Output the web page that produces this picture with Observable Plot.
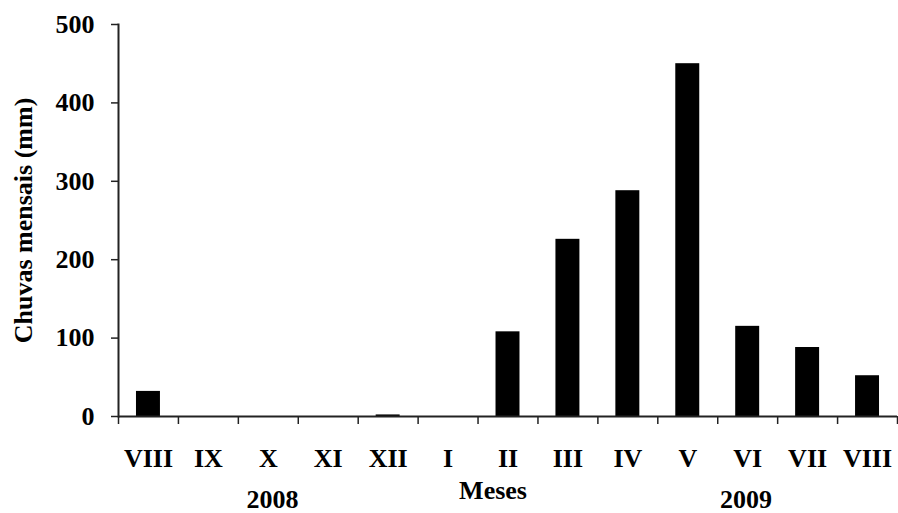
<!DOCTYPE html>
<html>
<head>
<meta charset="utf-8">
<script src="https://cdn.jsdelivr.net/npm/d3@7"></script>
<script src="https://cdn.jsdelivr.net/npm/@observablehq/plot@0.6"></script>
<style>
  body { margin: 0; background: #fff; }
</style>
</head>
<body>
<div id="chart"></div>
<script>
// Monthly rainfall, August 2008 to August 2009
const months = ["VIII", "IX", "X", "XI", "XII", "I", "II", "III", "IV", "V", "VI", "VII", "VIII"];
const rainfall = [32, 0, 0, 0, 2, 0, 108, 226, 288, 450, 115, 88, 52];
const yTicks = [0, 100, 200, 300, 400, 500];
const years = ["2008", "2009"];
const xTitle = "Meses";
const yTitle = "Chuvas mensais (mm)";

const data = months.map((month, i) => ({i, month, value: rainfall[i]}));
const boundaries = d3.range(months.length + 1);          // ticks between months
const centers = d3.range(months.length).map(i => i + 0.5); // month label positions
const yearPos = [2.57, 10.47];                             // year labels under their months

const ink = "#222";

const chart = Plot.plot({
  width: 898,
  height: 513,
  marginLeft: 118,
  marginRight: 1,
  marginTop: 24,
  marginBottom: 97,
  style: {
    fontFamily: '"Liberation Serif", "Times New Roman", serif',
    fontWeight: "bold",
    fontSize: "26px",
    color: "#000",
    background: "#fff",
    overflow: "visible"
  },
  x: {domain: [0, months.length]},
  y: {domain: [0, 500]},
  marks: [
    Plot.rect(data, {x1: d => d.i + 0.3, x2: d => d.i + 0.7, y1: 0, y2: "value", fill: "#000"}),
    Plot.axisY({ticks: yTicks, tickSize: 7, tickPadding: 17, label: null, stroke: ink, strokeWidth: 1.5}),
    Plot.axisX({ticks: boundaries, tickSize: 8, tickFormat: () => "", label: null, stroke: ink, strokeWidth: 1.5}),
    Plot.axisX({ticks: centers, tickSize: 0, tickPadding: 32, tickFormat: d => months[Math.floor(d)], label: null}),
    Plot.ruleY([0], {stroke: ink, strokeWidth: 2}),
    Plot.frame({anchor: "left", stroke: ink, strokeWidth: 2}),
    Plot.text([yTitle], {frameAnchor: "left", textAnchor: "middle", lineAnchor: "middle", dx: -95, rotate: -90}),
    Plot.text([xTitle], {x: 6.25, frameAnchor: "bottom", lineAnchor: "bottom", dy: 82}),
    Plot.text(years, {x: (d, i) => yearPos[i], frameAnchor: "bottom", lineAnchor: "bottom", dy: 91})
  ]
});

document.getElementById("chart").append(chart);
</script>
</body>
</html>
